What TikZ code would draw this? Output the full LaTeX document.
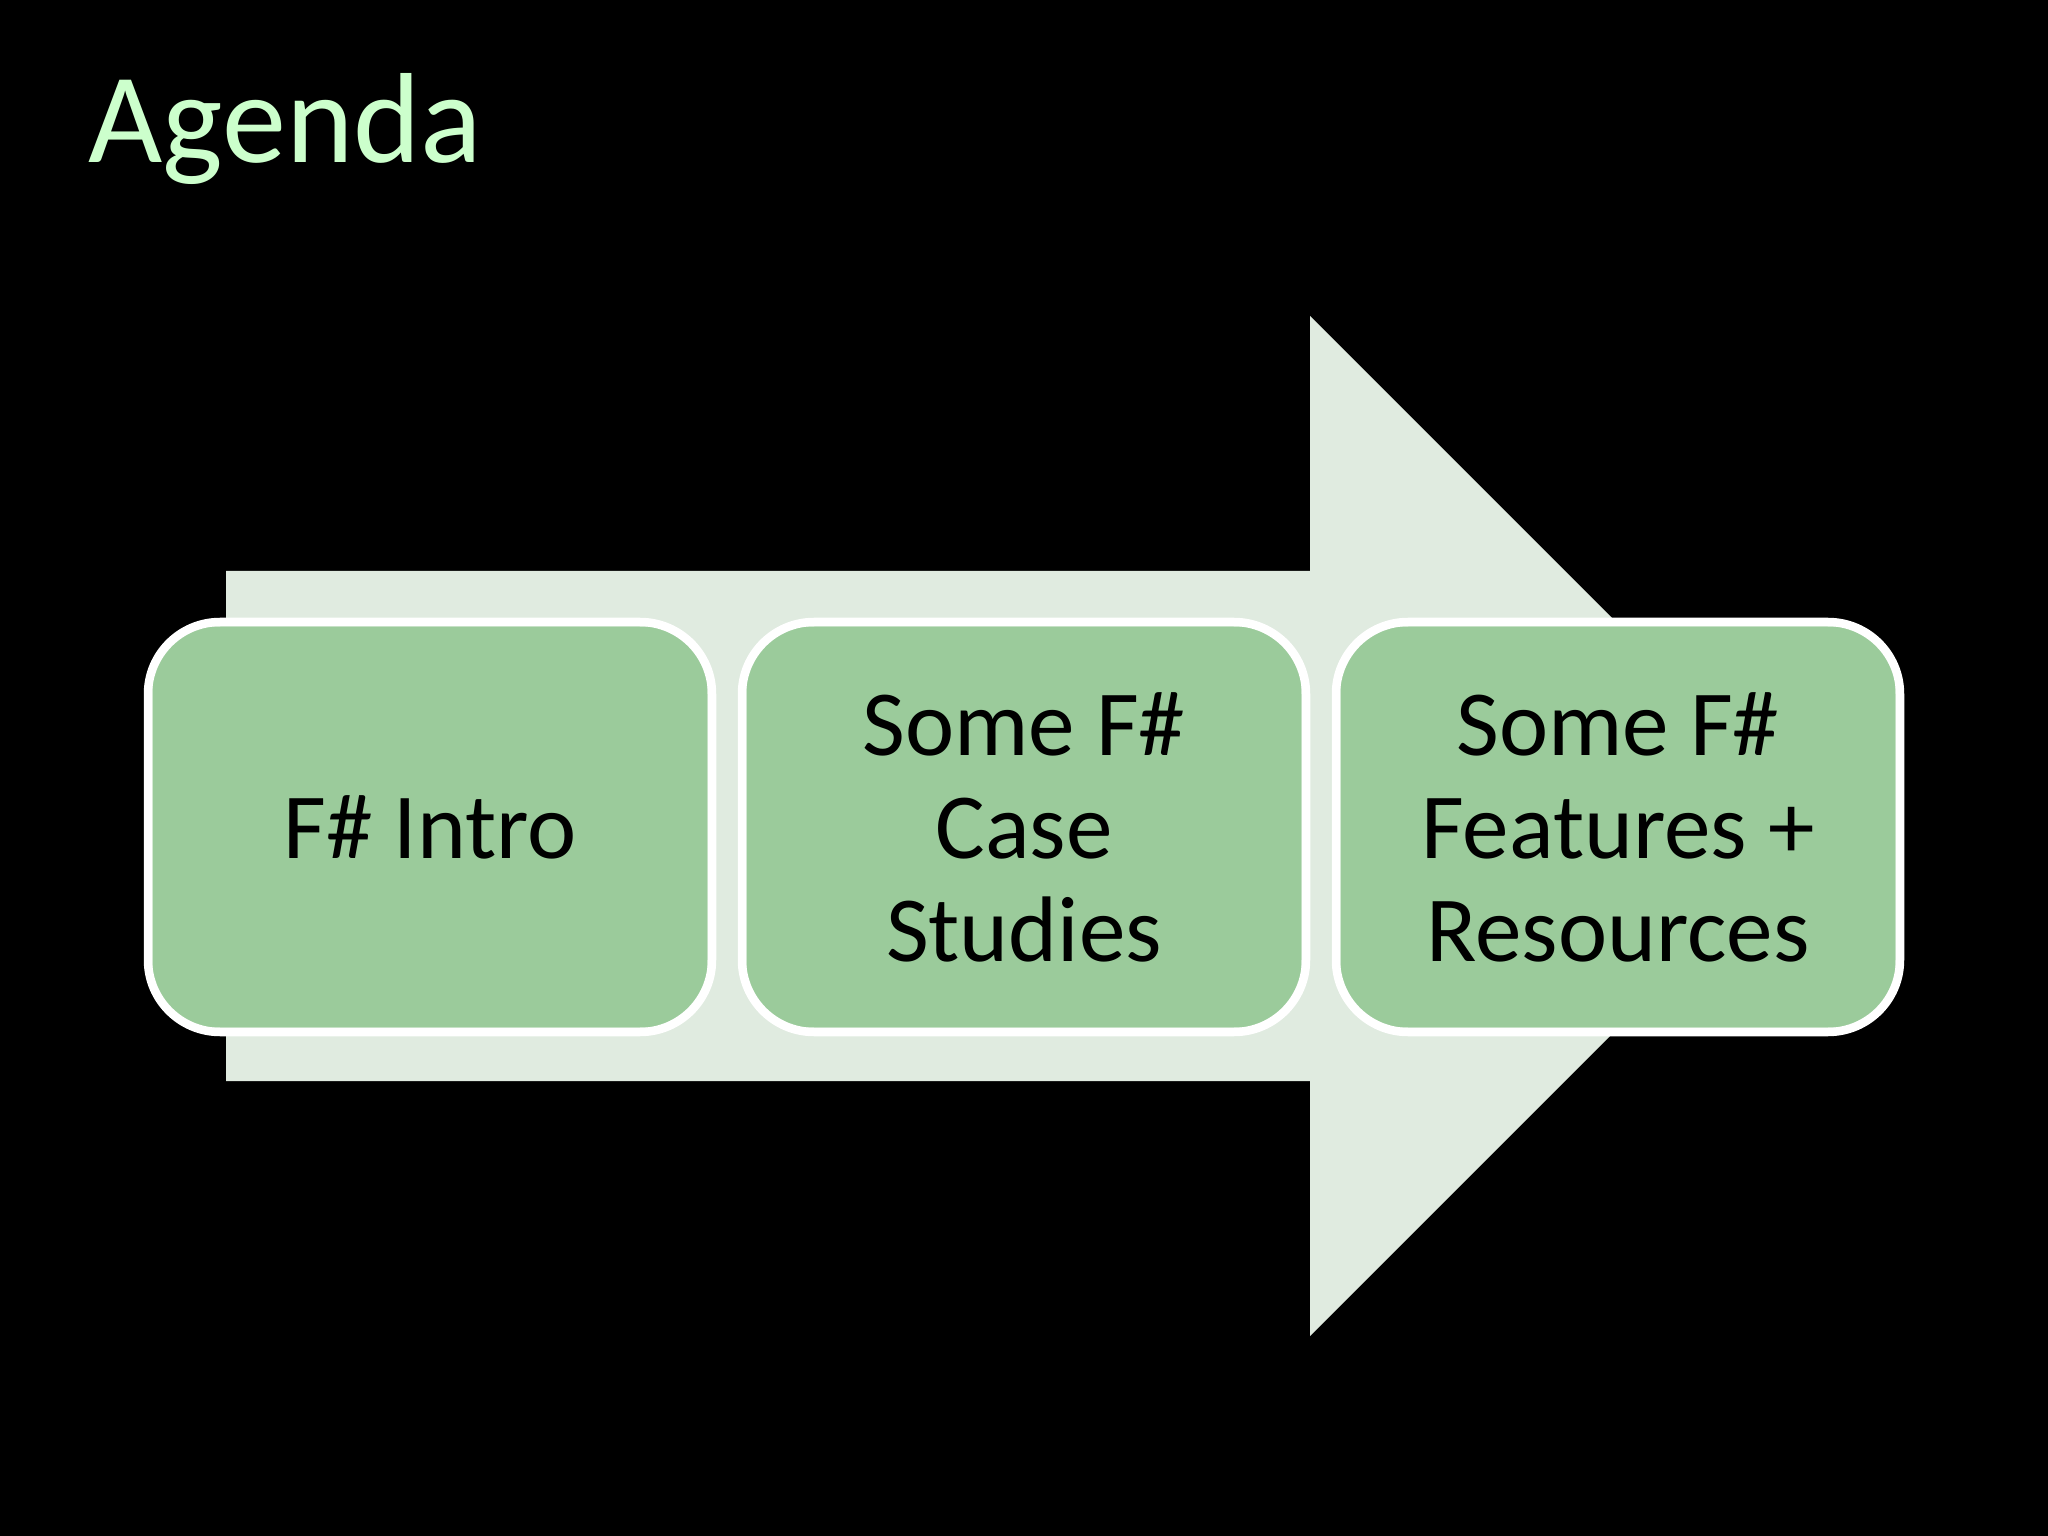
\documentclass[tikz,border=0pt]{standalone}
\usepackage{fontspec}
\setmainfont{Carlito}
\usetikzlibrary{calc}
\definecolor{bgblack}{HTML}{000000}
\definecolor{titlegreen}{HTML}{CCFFCC}
\definecolor{boxgreen}{HTML}{9BCB9B}
\definecolor{arrowfill}{HTML}{E0EBE0}
\begin{document}
\begin{tikzpicture}[
  stagebox/.style={draw=white, line width=0.085cm, fill=boxgreen, rounded corners=0.72cm,
    minimum width=5.64cm, minimum height=4.10cm, inner sep=0pt, align=center,
    font=\fontsize{26.5pt}{29.3pt}\selectfont, text=black},
  innerring/.style={draw=white, line width=0.022cm, rounded corners=0.64cm},
  titletext/.style={text=titlegreen, font=\fontsize{36.5pt}{44pt}\selectfont, inner sep=0pt}
]
\fill[bgblack] (0,0) rectangle (20.48,-15.36);
\useasboundingbox (0,0) rectangle (20.48,-15.36);
% big arrow
\fill[arrowfill] (2.26,-5.71) -- (13.10,-5.71) -- (13.10,-3.16) -- (18.20,-8.26)
  -- (13.10,-13.36) -- (13.10,-10.81) -- (2.26,-10.81) -- cycle;
% title
\node[titletext, anchor=base west] (title) at (0.88,-1.63) {Agenda};
% stages
\node[stagebox] (b1) at (4.30,-8.27) {F\# Intro};
\node[stagebox] (b2) at (10.24,-8.27) {Some F\#\\Case\\Studies};
\node[stagebox] (b3) at (16.18,-8.27) {Some F\#\\Features +\\Resources};
\foreach \b in {b1,b2,b3}{
  \draw[innerring] ($(\b.north west)+(0.075,-0.075)$) rectangle ($(\b.south east)+(-0.075,0.075)$);
}
\end{tikzpicture}
\end{document}
